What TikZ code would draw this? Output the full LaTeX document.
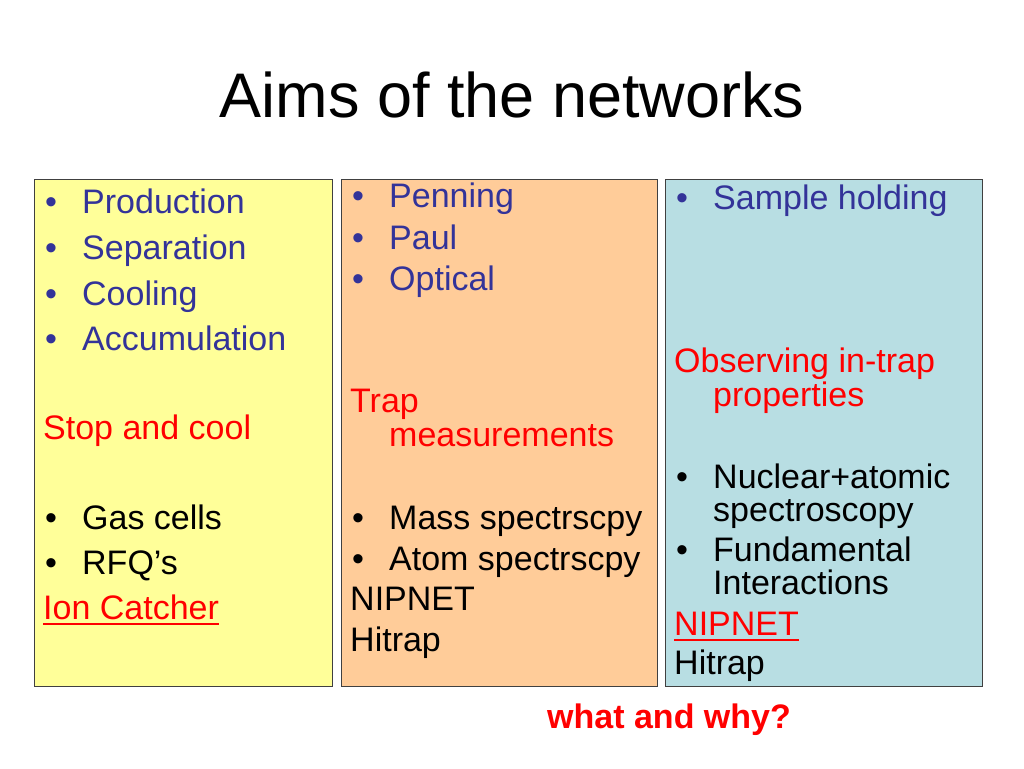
\documentclass[tikz,border=0pt]{standalone}
\usepackage{fontspec}
\setmainfont{Liberation Sans}
\definecolor{txtblue}{HTML}{333399}
\definecolor{boxyellow}{HTML}{FFFF99}
\definecolor{boxorange}{HTML}{FFCC99}
\definecolor{boxblue}{HTML}{B8DEE3}
\definecolor{boxline}{HTML}{404040}
\tikzset{
  line/.style={anchor=base west, inner sep=0pt, font=\fontsize{34}{40}\selectfont},
  panel/.style={draw=boxline, line width=1pt},
  uline/.style={line width=1.8pt, red},
}
\begin{document}
\begin{tikzpicture}[x=1pt,y=-1pt]
    \useasboundingbox (0,0) rectangle (1024,768);

    % Titel
    \node[anchor=base, inner sep=0pt, font=\fontsize{63}{70}\selectfont] (title) at (512,117) {Aims of the networks};

    % Kaesten
    \filldraw[panel, fill=boxyellow] (34,179) rectangle (332,686);
    \filldraw[panel, fill=boxorange] (341,179) rectangle (657,686);
    \filldraw[panel, fill=boxblue] (665,179) rectangle (982,686);

    % Kasten 1
    \node[line, txtblue] (b1a) at (45,213) {•};
    \node[line, txtblue] (prod) at (82,213) {Production};
    \node[line, txtblue] (b1b) at (45,259) {•};
    \node[line, txtblue] (sep) at (82,259) {Separation};
    \node[line, txtblue] (b1c) at (45,305) {•};
    \node[line, txtblue] (cool) at (82,305) {Cooling};
    \node[line, txtblue] (b1d) at (45,350) {•};
    \node[line, txtblue] (accu) at (82,350) {Accumulation};
    \node[line, red] (stop) at (43,439) {Stop and cool};
    \node[line] (b1e) at (45,529) {•};
    \node[line] (gas) at (82,529) {Gas cells};
    \node[line] (b1f) at (45,574) {•};
    \node[line] (rfq) at (82,574) {RFQ’s};
    \node[line, red] (ionc) at (43,619) {Ion Catcher};
    \draw[uline] ([yshift=-5pt]ionc.base west) -- ([yshift=-5pt]ionc.base east);

    % Kasten 2
    \node[line, txtblue] (b2a) at (352,207) {•};
    \node[line, txtblue] (penn) at (389,207) {Penning};
    \node[line, txtblue] (b2b) at (352,249) {•};
    \node[line, txtblue] (paul) at (389,249) {Paul};
    \node[line, txtblue] (b2c) at (352,290) {•};
    \node[line, txtblue] (opt) at (389,290) {Optical};
    \node[line, red] (trap) at (350,412) {Trap};
    \node[line, red] (meas) at (389,446) {measurements};
    \node[line] (b2d) at (352,529) {•};
    \node[line] (mass) at (389,529) {Mass spectrscpy};
    \node[line] (b2e) at (352,570) {•};
    \node[line] (atom) at (389,570) {Atom spectrscpy};
    \node[line] (nip2) at (350,610) {NIPNET};
    \node[line] (hit2) at (350,651) {Hitrap};

    % Kasten 3
    \node[line, txtblue] (b3a) at (676,209) {•};
    \node[line, txtblue] (samp) at (713,209) {Sample holding};
    \node[line, red] (obs) at (674,372) {Observing in-trap};
    \node[line, red] (prop) at (713,406) {properties};
    \node[line] (b3b) at (676,488) {•};
    \node[line] (nucl) at (713,488) {Nuclear+atomic};
    \node[line] (spec) at (713,521) {spectroscopy};
    \node[line] (b3c) at (676,561) {•};
    \node[line] (fund) at (713,561) {Fundamental};
    \node[line] (inter) at (713,594) {Interactions};
    \node[line, red] (nip3) at (674,635) {NIPNET};
    \draw[uline] ([yshift=-5pt]nip3.base west) -- ([yshift=-5pt]nip3.base east);
    \node[line] (hit3) at (674,674) {Hitrap};

    % Frage
    \node[line, red, font=\bfseries\fontsize{34}{40}\selectfont] (why) at (547,728) {what and why?};
\end{tikzpicture}
\end{document}
